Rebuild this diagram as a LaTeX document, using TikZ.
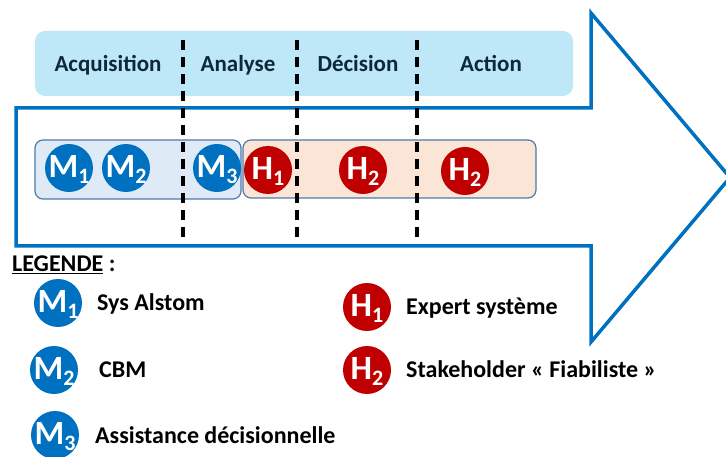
\documentclass[tikz,border=0pt]{standalone}
\usepackage{fontspec}
\setmainfont{Carlito}
\usepackage{xcolor}
\definecolor{arrowblue}{RGB}{0,112,192}
\definecolor{barblue}{RGB}{190,232,248}
\definecolor{mboxfill}{RGB}{222,235,247}
\definecolor{hboxfill}{RGB}{251,229,214}
\definecolor{boxedge}{RGB}{80,120,170}
\definecolor{labelnavy}{RGB}{15,40,55}
\definecolor{hred}{RGB}{192,0,0}

% letter with index, centred on the node without widening the circle
\newcommand{\agentlabel}[2]{\makebox[0pt]{\raisebox{-9.5pt}[0pt][0pt]{{\fontsize{34}{34}\selectfont #1}\raisebox{-6pt}{\fontsize{22}{22}\selectfont #2}}}}

\tikzset{
  agent/.style={circle, inner sep=0pt, minimum size=48pt, text=white, font=\bfseries},
  magent/.style={agent, fill=arrowblue},
  hagent/.style={agent, fill=hred},
  phase/.style={anchor=base, text=labelnavy, font=\bfseries\fontsize{23}{23}\selectfont},
  legtext/.style={anchor=base west, inner sep=0pt, font=\bfseries\fontsize{24}{24}\selectfont},
  sep/.style={black, line width=3.2pt, dash pattern=on 10pt off 7pt}
}

\begin{document}
\begin{tikzpicture}[x=1pt,y=-1pt]

\useasboundingbox (0,0) rectangle (726,457);

% Phase bar
\fill[barblue, rounded corners=10pt] (35,31) rectangle (573,96);
\node[phase] (acq) at (108,72) {Acquisition};
\node[phase] (ana) at (238,72) {Analyse};
\node[phase] (dec) at (358,72) {Décision};
\node[phase] (act) at (491,72) {Action};

% Big arrow
\draw[arrowblue, line width=3.5pt, line join=miter]
(16,108) -- (591,108) -- (591,13) -- (730,177.5) -- (591,342) -- (591,246) -- (16,246) -- cycle;

% Agent boxes
\draw[boxedge, fill=mboxfill, rounded corners=8pt, line width=1.2pt] (35,140) rectangle (241,199);
\draw[boxedge, fill=hboxfill, rounded corners=8pt, line width=1.2pt] (243,140) rectangle (536,198);

% Agents in the process
\node[magent] (m1) at (69,168) {\agentlabel{M}{1}};
\node[magent] (m2) at (126,168) {\agentlabel{M}{2}};
\node[magent] (m3) at (217,168) {\agentlabel{M}{3}};
\node[hagent] (h1) at (268,170) {\agentlabel{H}{1}};
\node[hagent] (h2a) at (363,170) {\agentlabel{H}{2}};
\node[hagent] (h2b) at (465,171) {\agentlabel{H}{2}};

% Phase separators
\foreach \x in {183,297,417} {
    \draw[sep] (\x,40) -- (\x,243);
}

% Legend
\node[legtext] (legtitle) at (12,272) {\underline{LEGENDE} :};

\node[magent] (lm1) at (58,303) {\agentlabel{M}{1}};
\node[legtext] (lsys) at (97,310) {Sys Alstom};
\node[magent] (lm2) at (54,370) {\agentlabel{M}{2}};
\node[legtext] (lcbm) at (99,377) {CBM};
\node[magent] (lm3) at (55,435) {\agentlabel{M}{3}};
\node[legtext] (lassist) at (95,443) {Assistance décisionnelle};

\node[hagent] (lh1) at (367,307) {\agentlabel{H}{1}};
\node[legtext] (lexpert) at (406,315) {Expert système};
\node[hagent] (lh2) at (367,370) {\agentlabel{H}{2}};
\node[legtext] (lstake) at (406,377) {Stakeholder « Fiabiliste »};

\end{tikzpicture}
\end{document}
